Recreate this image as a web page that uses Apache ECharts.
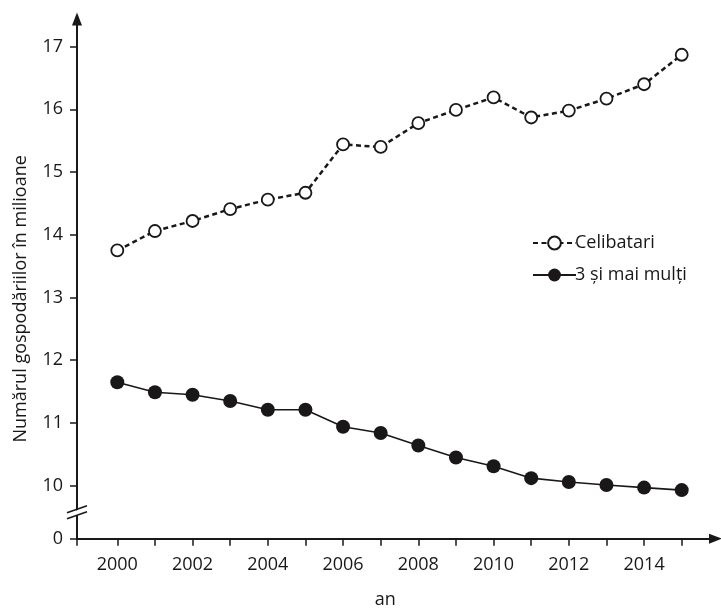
<!DOCTYPE html>
<html>
<head>
<meta charset="utf-8">
<script src="https://cdn.jsdelivr.net/npm/echarts@6/dist/echarts.min.js"></script>
<style>
html,body{margin:0;padding:0;background:#fff;}
#c{width:721px;height:610px;}
</style>
</head>
<body>
<div id="c"></div>
<script>
const years = [2000,2001,2002,2003,2004,2005,2006,2007,2008,2009,2010,2011,2012,2013,2014,2015];
const celibatari = [13.75,14.06,14.22,14.41,14.56,14.67,15.44,15.40,15.78,15.99,16.19,15.87,15.98,16.17,16.40,16.87];
const treiSiMaiMulti = [11.65,11.49,11.45,11.35,11.21,11.21,10.94,10.84,10.64,10.45,10.31,10.12,10.06,10.01,9.97,9.93];
const xTickYears = [2000,2001,2002,2003,2004,2005,2006,2007,2008,2009,2010,2011,2012,2013,2014,2015];
const xLabelYears = [2000,2002,2004,2006,2008,2010,2012,2014];
const yTickLabels = [10,11,12,13,14,15,16,17];
const seriesNames = ['Celibatari','3 și mai mulți'];
const yAxisTitle = 'Numărul gospodăriilor în milioane';
const xAxisTitle = 'an';

const Y_BREAK_BOTTOM = 9.155; // axis bottom, shown as "0" (broken axis)
const Y_TOP = 17.44;
const X_MIN = 1998.929, X_MAX = 2015.898;
const INK = '#1a1718';
const FONT = 'Open Sans';

const chart = echarts.init(document.getElementById('c'), null, {renderer:'canvas'});
const pair = (xs, ys) => xs.map((x,i)=>[x, ys[i]]);

chart.setOption({
  animation:false,
  backgroundColor:'#fff',
  textStyle:{fontFamily:FONT, color:INK},
  grid:{left:77, right:5.5, top:19, bottom:71.3, containLabel:false, outerBoundsMode:'none'},
  xAxis:{
    type:'value', min:X_MIN, max:X_MAX,
    name:xAxisTitle, nameLocation:'middle', nameGap:52,
    nameTextStyle:{fontSize:18, color:INK, fontFamily:FONT, padding:[0,22,0,0]},
    axisLine:{show:true, lineStyle:{color:INK, width:2}, symbol:['none','triangle'], symbolSize:[10,13]},
    axisTick:{show:true, inside:false, length:7, lineStyle:{color:INK, width:1.5}, customValues:[X_MIN].concat(xTickYears)},
    axisLabel:{show:true, margin:17, fontSize:18, color:INK, fontFamily:FONT, customValues:xLabelYears, formatter:v=>String(Math.round(v))},
    splitLine:{show:false}
  },
  yAxis:{
    type:'value', min:Y_BREAK_BOTTOM, max:Y_TOP,
    name:yAxisTitle, nameLocation:'middle', nameGap:47,
    nameTextStyle:{fontSize:18, color:INK, fontFamily:FONT, padding:[0,40,0,0]},
    axisLine:{show:true, lineStyle:{color:INK, width:2}, symbol:['none','triangle'], symbolSize:[10,13]},
    axisTick:{show:true, length:7, lineStyle:{color:INK, width:1.5}, customValues:[Y_BREAK_BOTTOM].concat(yTickLabels)},
    axisLabel:{show:true, margin:14, fontSize:18, color:INK, fontFamily:FONT, customValues:[Y_BREAK_BOTTOM].concat(yTickLabels), formatter:v=> v<9.9 ? '0' : String(Math.round(v))},
    splitLine:{show:false}
  },
  legend:{
    orient:'vertical', left:527, top:229, itemWidth:43, itemHeight:16, itemGap:14,
    textStyle:{fontSize:18, color:INK, fontFamily:FONT, padding:[0,0,0,-6]},
    data:seriesNames
  },
  series:[
    {
      name:seriesNames[0], type:'line', data:pair(years, celibatari),
      symbol:'circle', symbolSize:12,
      lineStyle:{color:INK, width:2.5, type:[5,3.5]},
      itemStyle:{color:'#fff', borderColor:INK, borderWidth:1.8},
      z:3
    },
    {
      name:seriesNames[1], type:'line', data:pair(years, treiSiMaiMulti),
      symbol:'circle', symbolSize:14,
      lineStyle:{color:INK, width:1.6, type:'solid'},
      itemStyle:{color:INK, borderColor:INK, borderWidth:0},
      z:3
    }
  ]
});

// axis-break marks (decoration) placed on the y axis between 0 and 10
const bx = chart.convertToPixel({gridIndex:0}, [X_MIN, 9.155 + (10-9.155)*0.5]);
const cx = bx[0], cy = bx[1];
chart.setOption({
  graphic:[
    {type:'polygon', shape:{points:[[cx-12,cy+2],[cx+12,cy-6],[cx+12,cy-1],[cx-12,cy+7]]}, style:{fill:'#fff'}, z:100},
    {type:'line', shape:{x1:cx-10, y1:cy+0.5, x2:cx+10, y2:cy-6.5}, style:{stroke:INK, lineWidth:1.6}, z:101},
    {type:'line', shape:{x1:cx-10, y1:cy+6.5, x2:cx+10, y2:cy-0.5}, style:{stroke:INK, lineWidth:1.6}, z:101}
  ]
});
</script>
</body>
</html>
